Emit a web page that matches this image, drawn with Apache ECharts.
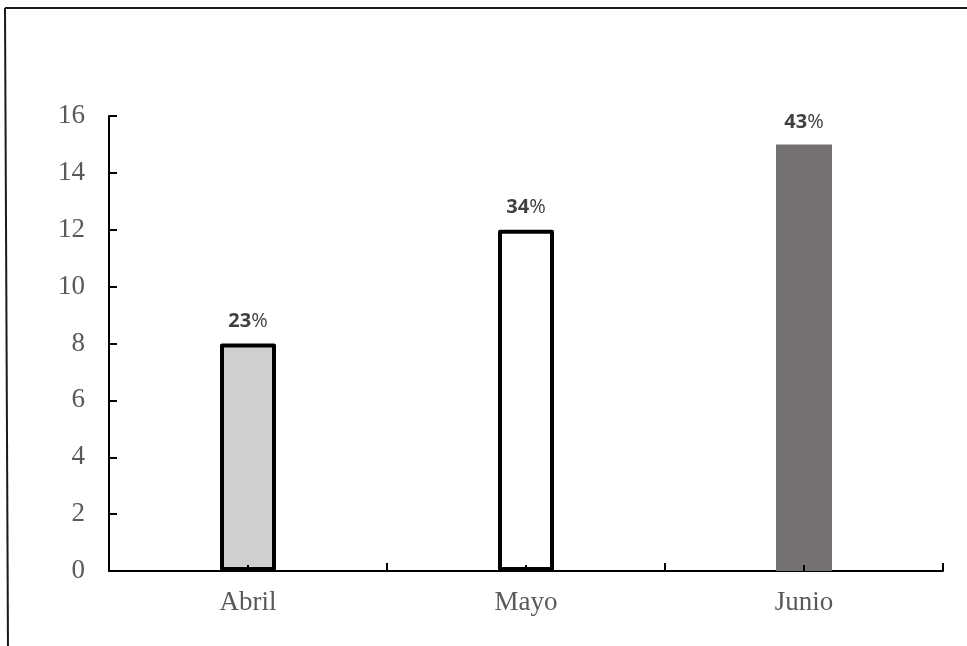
<!DOCTYPE html>
<html>
<head>
<meta charset="utf-8">
<title>Abril – Junio</title>
<script src="https://cdn.jsdelivr.net/npm/echarts@6/dist/echarts.min.js"></script>
<style>
  html, body { margin: 0; padding: 0; background: #ffffff; }
  #chart { width: 967px; height: 646px; }
</style>
</head>
<body>
<div id="chart"></div>
<script>
// Monthly counts and the fill used for each month's bar
const months = ['Abril', 'Mayo', 'Junio'];
const counts = [8, 12, 15];
const fills = ['#D0CECE', '#FFFFFF', '#767171'];
const outlined = [true, true, false];

// Y axis scale
const yMin = 0;
const yMax = 16;
const yStep = 2;

const total = counts.reduce((a, b) => a + b, 0);

const barData = counts.map((v, i) => ({
  value: v,
  itemStyle: {
    color: fills[i],
    borderColor: outlined[i] ? '#000000' : 'transparent',
    borderWidth: outlined[i] ? 4 : 0,
    borderJoin: 'round'
  }
}));

const chart = echarts.init(document.getElementById('chart'), null, { renderer: 'canvas' });

chart.setOption({
  backgroundColor: '#ffffff',
  animation: false,
  grid: { left: 109, right: 24, top: 116, bottom: 75, containLabel: false },
  graphic: [
    { type: 'line', shape: { x1: 5, y1: 8, x2: 970, y2: 8 }, style: { stroke: '#1a1a1a', lineWidth: 2 } },
    { type: 'line', shape: { x1: 5, y1: 8, x2: 8, y2: 650 }, style: { stroke: '#1a1a1a', lineWidth: 2 } }
  ],
  xAxis: [
    {
      type: 'category',
      data: months,
      position: 'bottom',
      axisLine: { show: true, lineStyle: { color: '#000000', width: 2 } },
      axisTick: { show: true, inside: true, interval: 0, length: 8, lineStyle: { color: '#000000', width: 2 } },
      axisLabel: {
        margin: 18,
        fontFamily: '"Liberation Serif", "Times New Roman", serif',
        fontSize: 27,
        color: '#595959'
      }
    },
    {
      // short centre marks drawn over the bars
      type: 'category',
      data: months,
      position: 'bottom',
      z: 10,
      axisLine: { show: false },
      axisTick: { show: true, inside: true, interval: 0, alignWithLabel: true, length: 6, lineStyle: { color: '#000000', width: 2 } },
      axisLabel: { show: false }
    }
  ],
  yAxis: {
    type: 'value',
    min: yMin,
    max: yMax,
    interval: yStep,
    splitLine: { show: false },
    axisLine: { show: true, lineStyle: { color: '#000000', width: 2 } },
    axisTick: { show: true, inside: true, length: 8, lineStyle: { color: '#000000', width: 2 } },
    axisLabel: {
      margin: 24,
      fontFamily: '"Liberation Serif", "Times New Roman", serif',
      fontSize: 27,
      color: '#595959'
    }
  },
  series: [{
    type: 'bar',
    xAxisIndex: 0,
    barWidth: 56,
    data: barData,
    label: {
      show: true,
      position: 'top',
      distance: 12,
      formatter: p => '{n|' + Math.round(p.value / total * 100) + '}{p|%}',
      rich: {
        n: { fontFamily: '"Open Sans", sans-serif', fontWeight: 'bold', fontSize: 20, color: '#404040' },
        p: { fontFamily: '"Open Sans", sans-serif', fontWeight: 'normal', fontSize: 20, color: '#404040' }
      }
    }
  }]
});
</script>
</body>
</html>
